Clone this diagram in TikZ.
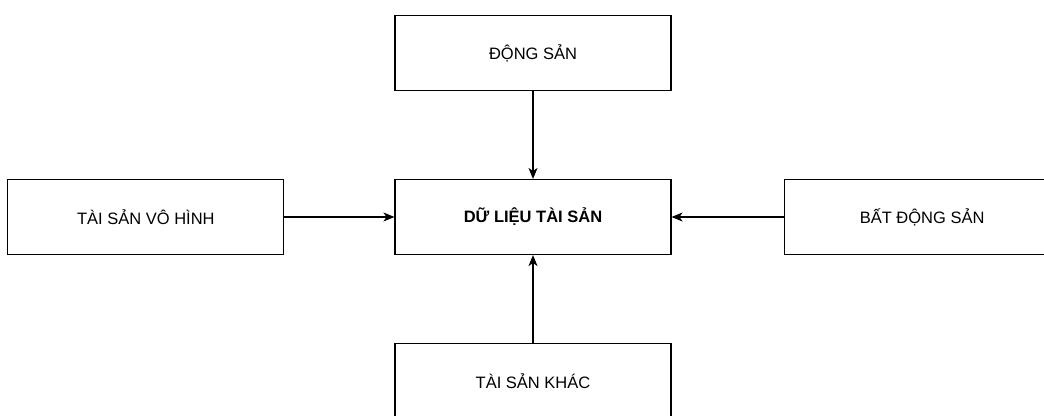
\documentclass[tikz,border=0pt]{standalone}
\usepackage{fontspec}
\setmainfont{Liberation Sans}
\usetikzlibrary{positioning}
\usetikzlibrary{arrows.meta}

\begin{document}
\begin{tikzpicture}[x=1pt,y=1pt,
				box/.style={draw, line width=1.1pt, minimum width=276pt, minimum height=75pt,
					inner sep=0pt, font=\fontsize{16.5}{19}\selectfont},
				link/.style={-{Stealth[length=11pt,width=9pt,inset=3pt]}, line width=1.1pt}]
				\useasboundingbox (0,0) rectangle (1044,-415);
				\clip (0,0) rectangle (1044,-415);
				\node[box, font=\fontsize{16.5}{19}\selectfont\bfseries] (data) at (533,-217) {DỮ LIỆU TÀI SẢN};
				\node[box, above=88pt of data] (dong) {ĐỘNG SẢN};
				\node[box, left=110pt of data] (vohinh) {TÀI SẢN VÔ HÌNH};
				\node[box, right=112pt of data] (batdong) {BẤT ĐỘNG SẢN};
				\node[box, below=88pt of data] (khac) {TÀI SẢN KHÁC};
				\draw[link] (dong) -- (data);
				\draw[link] (vohinh) -- (data);
				\draw[link] (batdong) -- (data);
				\draw[link] (khac) -- (data);
		\end{tikzpicture}
\end{document}
